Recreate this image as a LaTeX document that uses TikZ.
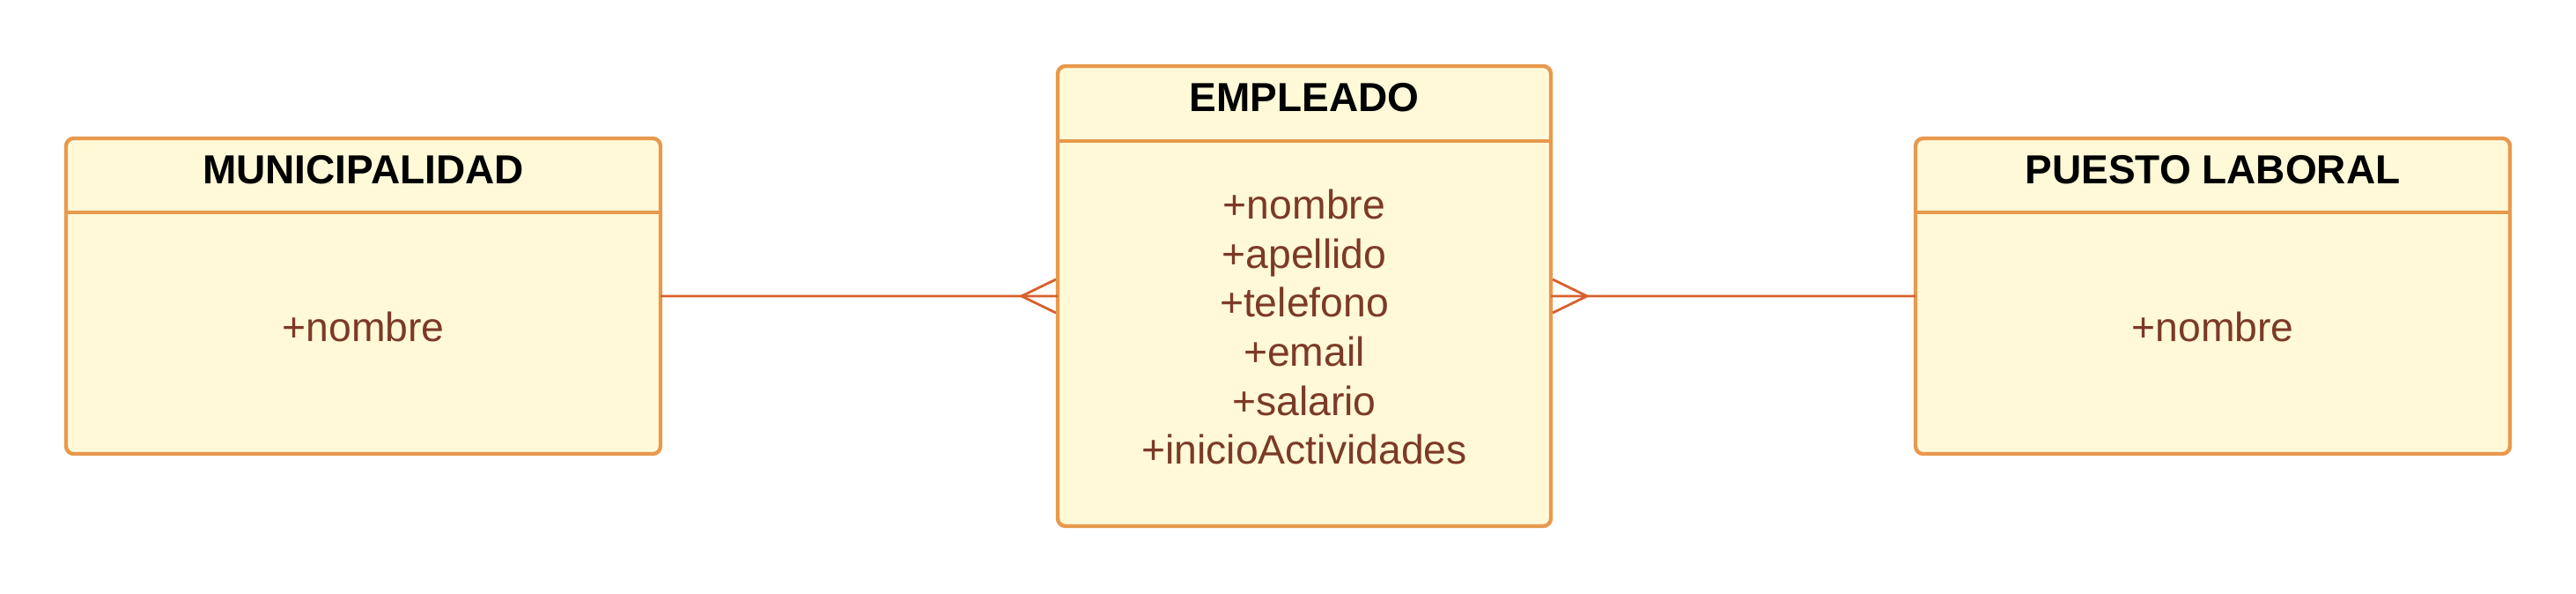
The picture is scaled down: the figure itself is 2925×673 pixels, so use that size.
\documentclass[tikz,border=0pt]{standalone}
\usepackage{fontspec}
\setmainfont{Liberation Sans}
\usetikzlibrary{calc}
\definecolor{boxfill}{HTML}{FFF9D8}
\definecolor{boxline}{HTML}{E8994D}
\definecolor{attrcol}{HTML}{7C3A26}
\definecolor{linkcol}{HTML}{D6612E}
\tikzset{
  entity/.style={draw=boxline, fill=boxfill, line width=1.3pt, rounded corners=2.6pt, inner sep=0pt, outer sep=0pt, anchor=north west},
  sepline/.style={draw=boxline, line width=1.3pt},
  title/.style={font=\fontsize{13.8}{16}\selectfont\bfseries, text=black, inner sep=0pt},
  attrs/.style={font=\fontsize{13.9}{16.7}\selectfont, text=attrcol, align=center, inner sep=0pt},
  link/.style={draw=linkcol, line width=0.85pt},
}
\begin{document}
\begin{tikzpicture}[x=0.3pt,y=-0.3pt]
\useasboundingbox (0,0) rectangle (2925,673);
% boxes
\node[entity, minimum width=202.5pt, minimum height=107.4pt] (mun) at (75,157) {};
\node[entity, minimum width=168pt, minimum height=156.6pt] (emp) at (1201,75) {};
\node[entity, minimum width=202.5pt, minimum height=107.4pt] (pue) at (2175,157) {};
% header separators
\draw[sepline] ($(mun.north west)+(0,84)$) -- ($(mun.north east)+(0,84)$);
\draw[sepline] ($(emp.north west)+(0,85)$) -- ($(emp.north east)+(0,85)$);
\draw[sepline] ($(pue.north west)+(0,84)$) -- ($(pue.north east)+(0,84)$);
% titles
\node[title] (munt) at ($(mun.north)+(0,36)$) {MUNICIPALIDAD};
\node[title] (empt) at ($(emp.north)+(0,36)$) {EMPLEADO};
\node[title] (puet) at ($(pue.north)+(0,36)$) {PUESTO LABORAL};
% attributes
\node[attrs] (muna) at ($(mun.south)+(0,-144)$) {+nombre};
\node[attrs] (empa) at ($(emp.south)+(0,-226)$) {+nombre\\+apellido\\+telefono\\+email\\+salario\\+inicioActividades};
\node[attrs] (puea) at ($(pue.south)+(0,-144)$) {+nombre};
% connectors
\draw[link] (mun.east) -- (emp.west);
\draw[link] ($(emp.west)+(-41,0)$) -- ($(emp.west)+(-2,-19)$);
\draw[link] ($(emp.west)+(-41,0)$) -- ($(emp.west)+(-2,19)$);
\draw[link] (pue.west) -- (emp.east);
\draw[link] ($(emp.east)+(41,0)$) -- ($(emp.east)+(2,-19)$);
\draw[link] ($(emp.east)+(41,0)$) -- ($(emp.east)+(2,19)$);
\end{tikzpicture}
\end{document}
